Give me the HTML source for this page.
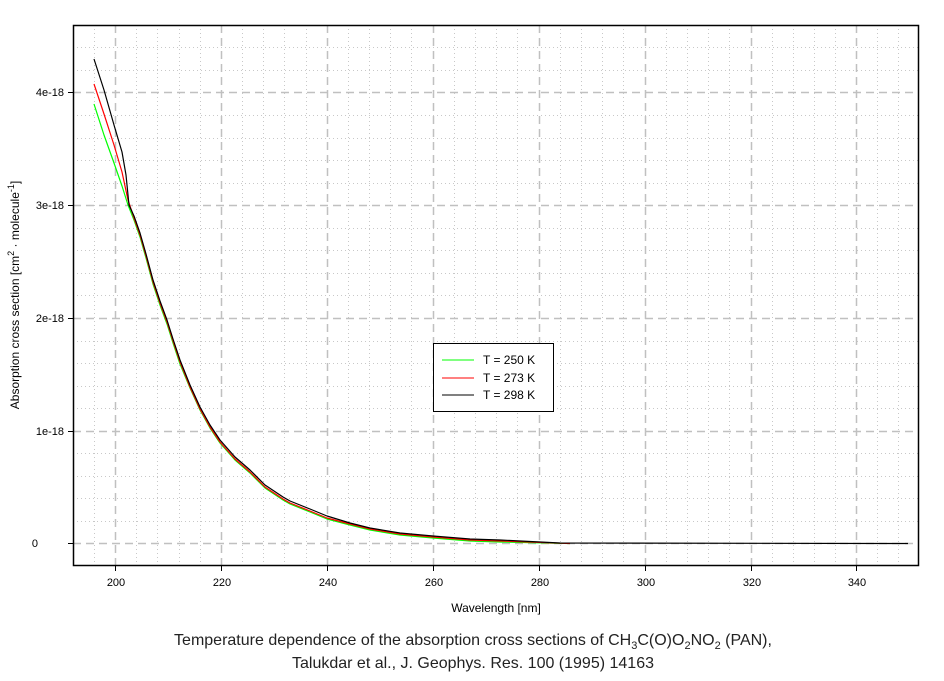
<!DOCTYPE html>
<html><head><style>
body{margin:0;background:#fff;font-family:"Liberation Sans",sans-serif;}
</style></head><body>
<svg width="944" height="676" xmlns="http://www.w3.org/2000/svg" font-family="Liberation Sans, sans-serif" font-size="12">
<rect width="944" height="676" fill="#fff"/>
<g stroke="#c8c8c8" stroke-width="1" stroke-dasharray="1,3">
<line x1="94.5" y1="25" x2="94.5" y2="566"/>
<line x1="136.5" y1="25" x2="136.5" y2="566"/><line x1="157.5" y1="25" x2="157.5" y2="566"/><line x1="179.5" y1="25" x2="179.5" y2="566"/><line x1="200.5" y1="25" x2="200.5" y2="566"/>
<line x1="242.5" y1="25" x2="242.5" y2="566"/><line x1="263.5" y1="25" x2="263.5" y2="566"/><line x1="284.5" y1="25" x2="284.5" y2="566"/><line x1="306.5" y1="25" x2="306.5" y2="566"/>
<line x1="348.5" y1="25" x2="348.5" y2="566"/><line x1="369.5" y1="25" x2="369.5" y2="566"/><line x1="390.5" y1="25" x2="390.5" y2="566"/><line x1="411.5" y1="25" x2="411.5" y2="566"/>
<line x1="454.5" y1="25" x2="454.5" y2="566"/><line x1="475.5" y1="25" x2="475.5" y2="566"/><line x1="496.5" y1="25" x2="496.5" y2="566"/><line x1="517.5" y1="25" x2="517.5" y2="566"/>
<line x1="560.5" y1="25" x2="560.5" y2="566"/><line x1="581.5" y1="25" x2="581.5" y2="566"/><line x1="602.5" y1="25" x2="602.5" y2="566"/><line x1="623.5" y1="25" x2="623.5" y2="566"/>
<line x1="666.5" y1="25" x2="666.5" y2="566"/><line x1="687.5" y1="25" x2="687.5" y2="566"/><line x1="708.5" y1="25" x2="708.5" y2="566"/><line x1="729.5" y1="25" x2="729.5" y2="566"/>
<line x1="772.5" y1="25" x2="772.5" y2="566"/><line x1="793.5" y1="25" x2="793.5" y2="566"/><line x1="814.5" y1="25" x2="814.5" y2="566"/><line x1="835.5" y1="25" x2="835.5" y2="566"/>
<line x1="877.5" y1="25" x2="877.5" y2="566"/><line x1="898.5" y1="25" x2="898.5" y2="566"/>
<line x1="73" y1="521.5" x2="919" y2="521.5"/><line x1="73" y1="498.5" x2="919" y2="498.5"/><line x1="73" y1="476.5" x2="919" y2="476.5"/><line x1="73" y1="453.5" x2="919" y2="453.5"/>
<line x1="73" y1="408.5" x2="919" y2="408.5"/><line x1="73" y1="386.5" x2="919" y2="386.5"/><line x1="73" y1="363.5" x2="919" y2="363.5"/><line x1="73" y1="341.5" x2="919" y2="341.5"/>
<line x1="73" y1="295.5" x2="919" y2="295.5"/><line x1="73" y1="273.5" x2="919" y2="273.5"/><line x1="73" y1="250.5" x2="919" y2="250.5"/><line x1="73" y1="228.5" x2="919" y2="228.5"/>
<line x1="73" y1="183.5" x2="919" y2="183.5"/><line x1="73" y1="160.5" x2="919" y2="160.5"/><line x1="73" y1="138.5" x2="919" y2="138.5"/><line x1="73" y1="115.5" x2="919" y2="115.5"/>
<line x1="73" y1="70.5" x2="919" y2="70.5"/><line x1="73" y1="47.5" x2="919" y2="47.5"/>
</g>
<g stroke="#c0c0c0" stroke-width="1.5" stroke-dasharray="8,5">
<line x1="115.5" y1="25" x2="115.5" y2="566"/><line x1="221.5" y1="25" x2="221.5" y2="566"/><line x1="327.5" y1="25" x2="327.5" y2="566"/><line x1="433.5" y1="25" x2="433.5" y2="566"/><line x1="539.5" y1="25" x2="539.5" y2="566"/><line x1="645.5" y1="25" x2="645.5" y2="566"/><line x1="751.5" y1="25" x2="751.5" y2="566"/><line x1="856.5" y1="25" x2="856.5" y2="566"/>
<line x1="73" y1="543.5" x2="919" y2="543.5"/><line x1="73" y1="431.5" x2="919" y2="431.5"/><line x1="73" y1="318.5" x2="919" y2="318.5"/><line x1="73" y1="205.5" x2="919" y2="205.5"/><line x1="73" y1="92.5" x2="919" y2="92.5"/>
</g>
<g fill="none" stroke-width="1.2" stroke-linejoin="round">
<polyline stroke="#00ff00" points="94,104 104,135 114,163 122,186 128,205 134,220 140,237 146,258 153,284 160,305 167,324 173,343 180,364 190,388 200,410 210,428 220,443 235,460 250,473 265,488 283,500 290,504 310,512 327,519 350,525 370,530 400,535 433,538 470,541 500,542 570,543.5"/>
<polyline stroke="#ff0000" points="94,84 104,114 114,145 122,172 128,200 134,218 140,235 146,256 153,282 160,303 167,322 173,341 180,362 190,387 200,409 210,427 220,442 235,459 250,472 265,487 283,499 290,503 310,511 327,518 350,524 370,529 400,534 433,537 470,540 500,541 570,543.5"/>
<polyline stroke="#000000" points="94,59 104,90 114,125 122,152 126,175 129,205 134,216 140,233 146,254 153,280 160,301 167,320 173,339 180,360 190,385 200,407 210,425 220,440 235,457 250,470 265,485 283,497 290,501 310,509 327,516 350,523 370,528 400,533 433,536 470,539 500,540 560,543 908,543.5"/>
</g>
<rect x="73.5" y="25.5" width="845" height="540" fill="none" stroke="#000" stroke-width="1.5"/>
<g stroke="#000"><line x1="68" y1="543.5" x2="73" y2="543.5"/><line x1="68" y1="431.5" x2="73" y2="431.5"/><line x1="68" y1="318.5" x2="73" y2="318.5"/><line x1="68" y1="205.5" x2="73" y2="205.5"/><line x1="68" y1="92.5" x2="73" y2="92.5"/>
<line x1="115.5" y1="566" x2="115.5" y2="571"/><line x1="221.5" y1="566" x2="221.5" y2="571"/><line x1="327.5" y1="566" x2="327.5" y2="571"/><line x1="433.5" y1="566" x2="433.5" y2="571"/><line x1="539.5" y1="566" x2="539.5" y2="571"/><line x1="645.5" y1="566" x2="645.5" y2="571"/><line x1="751.5" y1="566" x2="751.5" y2="571"/><line x1="856.5" y1="566" x2="856.5" y2="571"/></g>
<g font-size="11" text-anchor="end"><text x="38" y="547">0</text><text x="64" y="435">1e-18</text><text x="64" y="322">2e-18</text><text x="64" y="209">3e-18</text><text x="64" y="96">4e-18</text></g>
<g font-size="11" text-anchor="middle"><text x="116" y="586">200</text><text x="222" y="586">220</text><text x="328" y="586">240</text><text x="434" y="586">260</text><text x="540" y="586">280</text><text x="646" y="586">300</text><text x="752" y="586">320</text><text x="857" y="586">340</text>
<text x="496" y="612" font-size="12">Wavelength [nm]</text></g>
<text transform="translate(19,295) rotate(-90)" text-anchor="middle" font-size="12">Absorption cross section [cm<tspan dy="-5" font-size="9">2</tspan><tspan dy="5"> · molecule</tspan><tspan dy="-5" font-size="9">-1</tspan><tspan dy="5">]</tspan></text>
<rect x="433.5" y="343.5" width="120" height="68" fill="#fff" stroke="#000"/>
<line x1="442" y1="360" x2="474" y2="360" stroke="#00ff00"/><line x1="442" y1="378" x2="474" y2="378" stroke="#ff0000"/><line x1="442" y1="395" x2="474" y2="395" stroke="#000"/>
<g font-size="12"><text x="483" y="364">T = 250 K</text><text x="483" y="382">T = 273 K</text><text x="483" y="399">T = 298 K</text></g>
<g font-size="16" text-anchor="middle" fill="#222"><text x="473" y="645">Temperature dependence of the absorption cross sections of CH<tspan dy="4" font-size="11">3</tspan><tspan dy="-4">C(O)O</tspan><tspan dy="4" font-size="11">2</tspan><tspan dy="-4">NO</tspan><tspan dy="4" font-size="11">2</tspan><tspan dy="-4"> (PAN),</tspan></text>
<text x="473" y="668">Talukdar et al., J. Geophys. Res. 100 (1995) 14163</text></g>
</svg>
</body></html>
